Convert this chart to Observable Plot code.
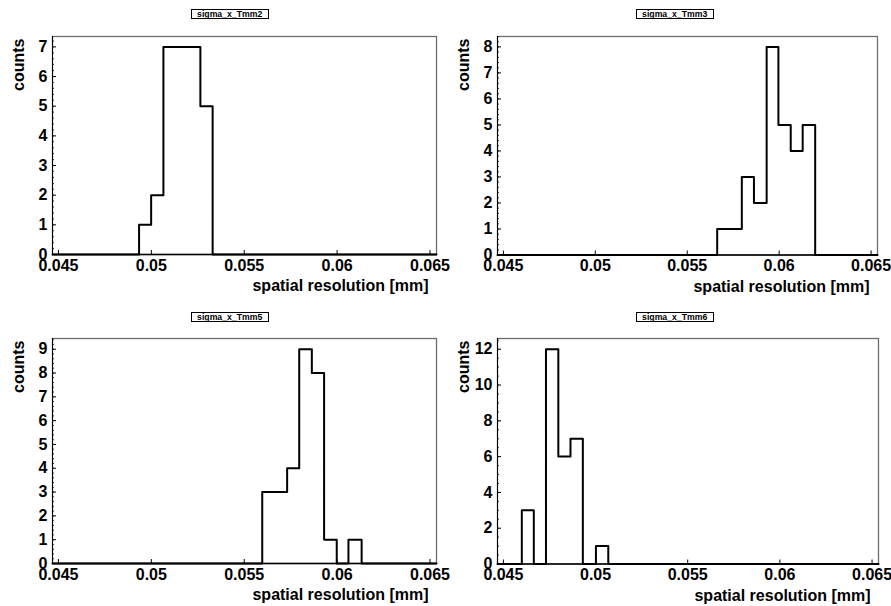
<!DOCTYPE html>
<html>
<head>
<meta charset="utf-8">
<script src="https://cdn.jsdelivr.net/npm/d3@7"></script>
<script src="https://cdn.jsdelivr.net/npm/@observablehq/plot@0.6"></script>
<style>
  html, body { margin: 0; padding: 0; background: #fff; }
  #canvas { position: relative; width: 891px; height: 606px; background: #fff; overflow: hidden; }
  .pad { position: absolute; }
  .pad svg { position: absolute; left: 0; top: 0; max-width: none; }
  .htitle {
    position: absolute; box-sizing: border-box; border: 1px solid #000; background: #fff;
    font: bold 8.7px "Liberation Sans", Arial, Helvetica, sans-serif; color: #000;
    text-align: center; line-height: 8px; z-index: 2; white-space: nowrap;
  }
</style>
</head>
<body>
<div id="canvas"></div>
<script>
// ---- data ----
const titles = ["sigma_x_Tmm2", "sigma_x_Tmm3", "sigma_x_Tmm5", "sigma_x_Tmm6"];
const xTitle = "spatial resolution [mm]";
const yTitle = "counts";
const xDomain = [0.04468, 0.06535];
const xTickValues = [0.045, 0.05, 0.055, 0.06, 0.065];
const xTickLabels = ["0.045", "0.05", "0.055", "0.06", "0.065"];

const tmm2Edges = [0.04934, 0.04999, 0.05065, 0.05131, 0.05198, 0.05264, 0.05330];
const tmm2Counts = [1, 2, 7, 7, 7, 5];

const tmm3Edges = [0.05663, 0.05730, 0.05797, 0.05863, 0.05932, 0.05996, 0.06063, 0.06128, 0.06196];
const tmm3Counts = [1, 1, 3, 2, 8, 5, 4, 5];

const tmm5Edges = [0.05597, 0.05664, 0.05731, 0.05796, 0.05864, 0.05930, 0.05998, 0.06061, 0.06132];
const tmm5Counts = [3, 3, 4, 9, 8, 1, 0, 1];

const tmm6Edges = [0.04600, 0.04665, 0.04731, 0.04798, 0.04864, 0.04931, 0.05002, 0.05069];
const tmm6Counts = [3, 0, 12, 6, 7, 0, 1];

const yMaxes = [7.35, 8.4, 9.45, 12.6];
const yTicks2 = [0, 1, 2, 3, 4, 5, 6, 7];
const yTicks3 = [0, 1, 2, 3, 4, 5, 6, 7, 8];
const yTicks5 = [0, 1, 2, 3, 4, 5, 6, 7, 8, 9];
const yTicks6 = [0, 2, 4, 6, 8, 10, 12];
const yMinorSteps = [0.2, 0.2, 0.2, 0.5];

// ---- layout ----
const pads = [
  {left: 0,   top: 0,   width: 445, height: 303, mt: 36, mb: 49,   ml: 52, mr: 9},
  {left: 445, top: 0,   width: 446, height: 303, mt: 36, mb: 48.5, ml: 52, mr: 14},
  {left: 0,   top: 303, width: 445, height: 303, mt: 35, mb: 43,   ml: 52, mr: 9},
  {left: 445, top: 303, width: 446, height: 303, mt: 35, mb: 42.5, ml: 52, mr: 13}
];

const hists = [
  {edges: tmm2Edges, counts: tmm2Counts, yTicks: yTicks2},
  {edges: tmm3Edges, counts: tmm3Counts, yTicks: yTicks3},
  {edges: tmm5Edges, counts: tmm5Counts, yTicks: yTicks5},
  {edges: tmm6Edges, counts: tmm6Counts, yTicks: yTicks6}
];

const FONT = "Liberation Sans, Arial, Helvetica, sans-serif";
const FS = 16;

function stepPoints(edges, counts) {
  const pts = [{x: xDomain[0], y: 0}];
  counts.forEach((c, i) => pts.push({x: edges[i], y: c}));
  pts.push({x: edges[edges.length - 1], y: 0});
  pts.push({x: xDomain[1], y: 0});
  return pts;
}

const canvas = document.getElementById("canvas");

hists.forEach((h, k) => {
  const p = pads[k];
  const yMax = yMaxes[k];
  const minor = d3.range(0, yMax + 1e-9, yMinorSteps[k]);

  const chart = Plot.plot({
    width: p.width,
    height: p.height,
    marginTop: p.mt, marginBottom: p.mb, marginLeft: p.ml, marginRight: p.mr,
    style: {fontFamily: FONT, background: "transparent", color: "#000", overflow: "visible"},
    x: {domain: xDomain, axis: null},
    y: {domain: [0, yMax], axis: null},
    marks: [
      Plot.frame({stroke: "#6e6e6e", strokeWidth: 1.3}),
      Plot.axisY(minor, {tickSize: -2, tickFormat: () => "", label: null, stroke: "#333"}),
      Plot.axisY(h.yTicks, {tickSize: -4, tickPadding: 9, tickFormat: d => String(d), label: null,
        fontSize: FS, fontWeight: "bold", fill: "#000"}),
      Plot.axisX(xTickValues, {tickSize: -4, tickPadding: 9,
        tickFormat: d => xTickLabels[xTickValues.indexOf(d)], label: null,
        fontSize: FS, fontWeight: "bold", fill: "#000"}),
      Plot.ruleX([xDomain[0]], {stroke: "#000", strokeWidth: 1}),
      Plot.line(stepPoints(h.edges, h.counts), {x: "x", y: "y", curve: "step-after",
        stroke: "#000", strokeWidth: 2}),
      Plot.ruleY([0], {stroke: "#000", strokeWidth: 1.5}),
      Plot.text([yTitle], {text: d => d, frameAnchor: "top-left", rotate: -90, textAnchor: "end",
        lineAnchor: "middle", dx: -33.5, dy: 2, fontSize: FS, fontWeight: "bold", fill: "#000"}),
      Plot.text([xTitle], {text: d => d, frameAnchor: "bottom-right", textAnchor: "end",
        lineAnchor: "middle", dx: -8, dy: 31.5, fontSize: FS, fontWeight: "bold", fill: "#000"})
    ]
  });

  const pad = document.createElement("div");
  pad.className = "pad";
  pad.style.left = p.left + "px";
  pad.style.top = p.top + "px";
  pad.style.width = p.width + "px";
  pad.style.height = p.height + "px";
  pad.appendChild(chart);

  const t = document.createElement("div");
  t.className = "htitle";
  t.textContent = titles[k];
  t.style.left = "190.7px";
  t.style.top = "9px";
  t.style.width = "78px";
  t.style.height = "9.5px";
  pad.appendChild(t);

  canvas.appendChild(pad);
});
</script>
</body>
</html>
